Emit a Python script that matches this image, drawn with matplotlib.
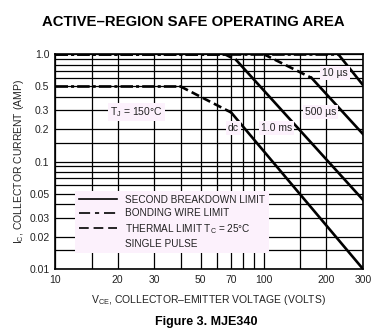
import matplotlib
matplotlib.use("Agg")
import matplotlib.pyplot as plt
from matplotlib.lines import Line2D

plt.rcParams['font.family'] = ['Liberation Sans', 'DejaVu Sans']
plt.rcParams['mathtext.fontset'] = 'custom'
plt.rcParams['mathtext.rm'] = 'Liberation Sans'
plt.rcParams['mathtext.it'] = 'Liberation Sans:italic'
plt.rcParams['lines.scale_dashes'] = False

# curve data (volts, amps)
dc_bond_v = [10, 40]
dc_bond_i = [0.5, 0.5]
dc_therm_v = [40, 70]
dc_therm_i = [0.5, 0.286]
dc_sb_v = [70, 300]
dc_sb_i = [0.286, 0.01]

ms1_bond_v = [10, 65]
ms1_bond_i = [1.0, 1.0]
ms1_therm_v = [65, 74]
ms1_therm_i = [1.0, 0.88]
ms1_sb_v = [74, 300]
ms1_sb_i = [0.88, 0.044]

us500_therm_v = [100, 170]
us500_therm_i = [1.0, 0.6]
us500_sb_v = [170, 300]
us500_sb_i = [0.6, 0.18]

us10_bond_v = [10, 228]
us10_bond_i = [1.0, 1.0]
us10_sb_v = [228, 300]
us10_sb_i = [1.0, 0.515]

x_grid = [10, 15, 20, 30, 40, 50, 60, 70, 80, 90, 100, 150, 200, 300]
y_grid = [0.01, 0.015, 0.02, 0.03, 0.04, 0.05, 0.06, 0.07, 0.08, 0.09,
          0.1, 0.15, 0.2, 0.3, 0.4, 0.5, 0.6, 0.7, 0.8, 0.9, 1.0]
x_ticks = [10, 20, 30, 50, 70, 100, 200, 300]
x_labels = ['10', '20', '30', '50', '70', '100', '200', '300']
y_ticks = [0.01, 0.02, 0.03, 0.05, 0.1, 0.2, 0.3, 0.5, 1.0]
y_labels = ['0.01', '0.02', '0.03', '0.05', '0.1', '0.2', '0.3', '0.5', '1.0']

# label positions (volts, amps)
curve_labels = ['dc', '1.0 ms', '500 µs', '10 µs', 'T$_\\mathrm{J}$ = 150°C']
label_v = [71.8, 115.7, 188, 220, 24.5]
label_i = [0.205, 0.205, 0.288, 0.666, 0.288]

bond = (9, 2.2, 2.2, 2.2)
therm = (6, 3)
lw = 1.9
txt = '#222222'
pink = '#fcf1fc'

fig = plt.figure(figsize=(3.87, 3.36), dpi=100)
ax = fig.add_axes([0.142, 0.1994, 0.796, 0.6396])
ax.set_xscale('log')
ax.set_yscale('log')
ax.set_xlim(10, 300)
ax.set_ylim(0.01, 1.0)

for v in x_grid:
    ax.axvline(v, color='black', lw=0.9, zorder=1)
for i in y_grid:
    ax.axhline(i, color='black', lw=0.9, zorder=1)

ax.plot(dc_bond_v, dc_bond_i, color='black', lw=lw, dashes=bond, zorder=3)
ax.plot(dc_therm_v, dc_therm_i, color='black', lw=lw, dashes=therm, zorder=3)
ax.plot(dc_sb_v, dc_sb_i, color='black', lw=lw, zorder=3)
ax.plot(ms1_bond_v, ms1_bond_i, color='black', lw=lw, dashes=bond, zorder=3)
ax.plot(ms1_therm_v, ms1_therm_i, color='black', lw=lw, dashes=therm, zorder=3)
ax.plot(ms1_sb_v, ms1_sb_i, color='black', lw=lw, zorder=3)
ax.plot(us500_therm_v, us500_therm_i, color='black', lw=lw, dashes=therm, zorder=3)
ax.plot(us500_sb_v, us500_sb_i, color='black', lw=lw, zorder=3)
ax.plot(us10_bond_v, us10_bond_i, color='black', lw=lw, dashes=bond, zorder=3)
ax.plot(us10_sb_v, us10_sb_i, color='black', lw=lw, zorder=3)

for s, v, i in zip(curve_labels, label_v, label_i):
    ax.text(v, i, s, ha='center', va='center', fontsize=7.5, color=txt, zorder=4,
            bbox=dict(boxstyle='square,pad=0.2', fc=pink, ec='none'))

handles = [
    Line2D([], [], color='black', lw=1.2),
    Line2D([], [], color='black', lw=1.2, dashes=(8, 3.5, 3, 3.5)),
    Line2D([], [], color='black', lw=1.2, dashes=(7, 3.5)),
    Line2D([], [], color='none'),
]
names = ['SECOND BREAKDOWN LIMIT', 'BONDING WIRE LIMIT',
         'THERMAL LIMIT T$_\\mathrm{C}$ = 25°C', 'SINGLE PULSE']
leg = ax.legend(handles, names, loc='lower left', bbox_to_anchor=(0.065, 0.074),
                borderaxespad=0, fontsize=7.2, handlelength=3.8, handletextpad=0.8,
                labelspacing=0.35, frameon=True, fancybox=False, borderpad=0.4)
leg.get_frame().set_facecolor(pink)
leg.get_frame().set_edgecolor('none')
leg.get_frame().set_alpha(1)
leg.set_zorder(5)
for t in leg.get_texts():
    t.set_color(txt)

ax.set_xticks(x_ticks)
ax.set_xticklabels(x_labels)
ax.set_yticks(y_ticks)
ax.set_yticklabels(y_labels)
ax.minorticks_off()
ax.tick_params(length=0, labelsize=7.5, labelcolor=txt, pad=4)
for sp in ax.spines.values():
    sp.set_linewidth(1.2)

ax.set_xlabel('V$_\\mathrm{CE}$, COLLECTOR\u2013EMITTER VOLTAGE (VOLTS)', fontsize=7.5,
              color=txt, labelpad=6)
ax.set_ylabel('I$_\\mathrm{C}$, COLLECTOR CURRENT (AMP)', fontsize=7.5, color=txt, labelpad=2)

fig.text(0.5, 0.935, 'ACTIVE\u2013REGION SAFE OPERATING AREA', ha='center', va='center',
         fontsize=10.7, fontweight='bold')
fig.text(0.533, 0.042, 'Figure 3. MJE340', ha='center', va='center',
         fontsize=9, fontweight='bold')

fig.savefig('out.png', dpi=100)
